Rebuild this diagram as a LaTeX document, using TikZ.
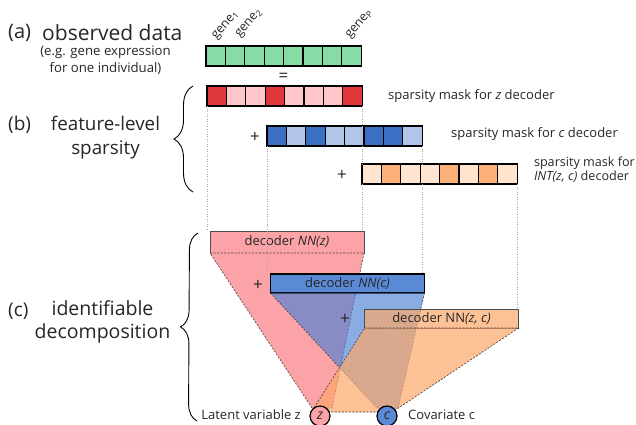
\documentclass[tikz,border=0pt]{standalone}
\usepackage{fontspec}
\setmainfont{Open Sans}
\usetikzlibrary{calc,decorations.pathreplacing}
\definecolor{cgreen}{HTML}{86DCA5}
\definecolor{rdark}{HTML}{E0373A}
\definecolor{rlight}{HTML}{FFC5C8}
\definecolor{bdark}{HTML}{3A6FC4}
\definecolor{blight}{HTML}{B0C5E8}
\definecolor{odark}{HTML}{FBB07A}
\definecolor{olight}{HTML}{FFE4D0}
\definecolor{pinkf}{HTML}{FCA3A7}
\definecolor{bluef}{HTML}{4A7FD4}
\definecolor{orangef}{HTML}{FCA76A}
\definecolor{bluebox}{HTML}{5A8AD5}
\definecolor{txt}{HTML}{262626}
\newcommand{\fs}[1]{\fontsize{#1}{#1}\selectfont}
\newcommand{\genetxt}[1]{\rotatebox{50}{gene\textsubscript{#1}}}
\begin{document}
\begin{tikzpicture}[x=1pt,y=-1pt,
  every node/.style={text=txt},
  cell/.style={draw=black, line width=1.1pt, minimum width=19.4pt, minimum height=20pt, inner sep=0pt, outer sep=0pt},
  big/.style={inner sep=0pt},
  masklbl/.style={font=\fs{13}, inner sep=0pt, anchor=west},
  sym/.style={font=\fs{17}, inner sep=0pt},
  genelbl/.style={anchor=south west, font=\fs{12.5}, inner sep=0pt},
  guide/.style={draw=black!35, line width=0.5pt, dash pattern=on 1pt off 1.5pt},
  edge/.style={draw=black!75, line width=0.6pt, dash pattern=on 2pt off 1.5pt},
  decbox/.style={minimum height=20pt, minimum width=154pt, inner sep=0pt, outer sep=0pt, font=\fs{13}},
  var/.style={circle, draw=black, line width=1.2pt, minimum size=20pt, inner sep=0pt, font=\fs{14}\itshape},
  brc/.style={draw=black, line width=0.9pt, decorate},
]
\useasboundingbox (0,0) rectangle (636,424);

% (a) observed data
\foreach \col [count=\i] in {cgreen,cgreen,cgreen,cgreen,cgreen,cgreen,cgreen,cgreen}
  \node[cell, fill=\col] (g\i) at ({206+19.4*(\i-0.5)},56) {};
\node[genelbl] (gl1) at ($(g1.north west)+(5,-4)$) {\genetxt{1}};
\node[genelbl] (gl2) at ($(g2.north west)+(9,-6)$) {\genetxt{2}};
\node[genelbl] (glp) at ($(g8.north west)+(3,-5)$) {\genetxt{P}};
\node[sym] (eq) at (283.5,77) {=};

% (b) masks
\foreach \col [count=\i] in {rdark,rlight,rlight,rdark,rlight,rlight,rlight,rdark}
  \node[cell, fill=\col] (r\i) at ({207+19.4*(\i-0.5)},96) {};
\foreach \col [count=\i] in {bdark,blight,bdark,blight,blight,bdark,bdark,blight}
  \node[cell, fill=\col] (b\i) at ({267+19.4*(\i-0.5)},136) {};
\foreach \col [count=\i] in {olight,odark,olight,olight,odark,olight,odark,olight}
  \node[cell, fill=\col] (o\i) at ({362+19.4*(\i-0.5)},174) {};
\node[sym] (p1) at (255,137) {+};
\node[sym] (p2) at (342,175) {+};
\node[masklbl] (lz) at (388,96) {sparsity mask for \textit{z} decoder};
\node[masklbl] (lc) at (451,134) {sparsity mask for \textit{c} decoder};
\node[font=\fs{12.6}, inner sep=0pt, anchor=east, align=left] (li) at (635,170) {sparsity mask for\\[1.5pt]\textit{INT(z, c)} decoder};

% (c) decomposition
\coordinate (zc) at (320,416);
\coordinate (cc) at (387,416);
\node[decbox, draw=black!70, line width=0.8pt, fill=pinkf, minimum height=22pt] (dz) at (287,242) {decoder \textit{NN(z)}};
\path[fill=pinkf, edge] (dz.south west) -- (dz.south east) -- ($(zc)+(12,-8)$) -- ($(zc)+(-8,-8)$) -- cycle;
\node[decbox, draw=black, line width=1.3pt, fill=bluebox, minimum height=19pt] (dc) at (347.5,283.5) {decoder \textit{NN(c)}};
\path[fill=bluef, fill opacity=0.65, edge] (dc.south west) -- (dc.south east) -- ($(cc)+(11,-8)$) -- ($(cc)+(-10,-8)$) -- cycle;
\node[decbox, draw=black!70, line width=0.8pt, fill=orangef, fill opacity=0.7, text opacity=1, minimum height=19pt] (do) at (441.5,318.5) {decoder NN\textit{(z, c)}};
\path[fill=orangef, fill opacity=0.7, edge] (do.south west) -- (do.south east) -- ($(cc)+(10,-7)$) -- ($(cc)+(0,-4)$) -- ($(zc)+(0,-4)$) -- ($(zc)+(-6,-8)$) -- cycle;
\node[sym] (p3) at (258,285) {+};
\node[sym] (p4) at (345,319) {+};
\node[var, fill=pinkf] (z) at (zc) {z};
\node[var, fill=bluebox] (c) at (cc) {c};
\node[font=\fs{13}, inner sep=0pt, anchor=east] (lzv) at (301,415) {Latent variable z};
\node[font=\fs{13}, inner sep=0pt, anchor=west] (lcv) at (408,415) {Covariate c};

% guides
\draw[guide] (r1.south west) -- (r1.south west |- dz.north);
\draw[guide] (b1.south west) -- (b1.south west |- dc.north);
\draw[guide] (r8.south east) -- (r8.south east |- o1.north);
\draw[guide] (o1.south west) -- (o1.south west |- dz.north);
\draw[guide] (b8.south east) -- (b8.south east |- o1.north);
\draw[guide] (b8.south east |- o1.south) -- (b8.south east |- dc.north);
\draw[guide] (o8.south east) -- (o8.south east |- do.north);

% left labels
\node[big, font=\fs{20}, anchor=west] (la) at (8,33) {(a)};
\node[big, font=\fs{21}, anchor=west] (lat) at (42,33) {observed data};
\node[font=\fs{13.2}, inner sep=0pt, align=center] (las) at (105.5,60) {(e.g. gene expression\\[2.5pt]for one individual)};
\node[big, font=\fs{19}, anchor=west] (lb) at (8,125) {(b)};
\node[big, font=\fs{18.8}, align=center] (lbt) at (105.5,137.5) {feature-level\\[6pt]sparsity};
\node[big, font=\fs{19}, anchor=west] (lcl) at (8,311) {(c)};
\node[big, font=\fs{19.5}, align=center] (lct) at (102.5,322) {identifiable\\[3pt]decomposition};

% braces
\coordinate (bb1) at (193,192);
\coordinate (bb2) at (193,86);
\draw[brc, decoration={brace, amplitude=19pt}] (bb1) -- (bb2);
\coordinate (cb1) at (197,421);
\coordinate (cb2) at (198,233);
\draw[brc, decoration={brace, amplitude=17pt}] (cb1) -- (cb2);
\end{tikzpicture}
\end{document}
